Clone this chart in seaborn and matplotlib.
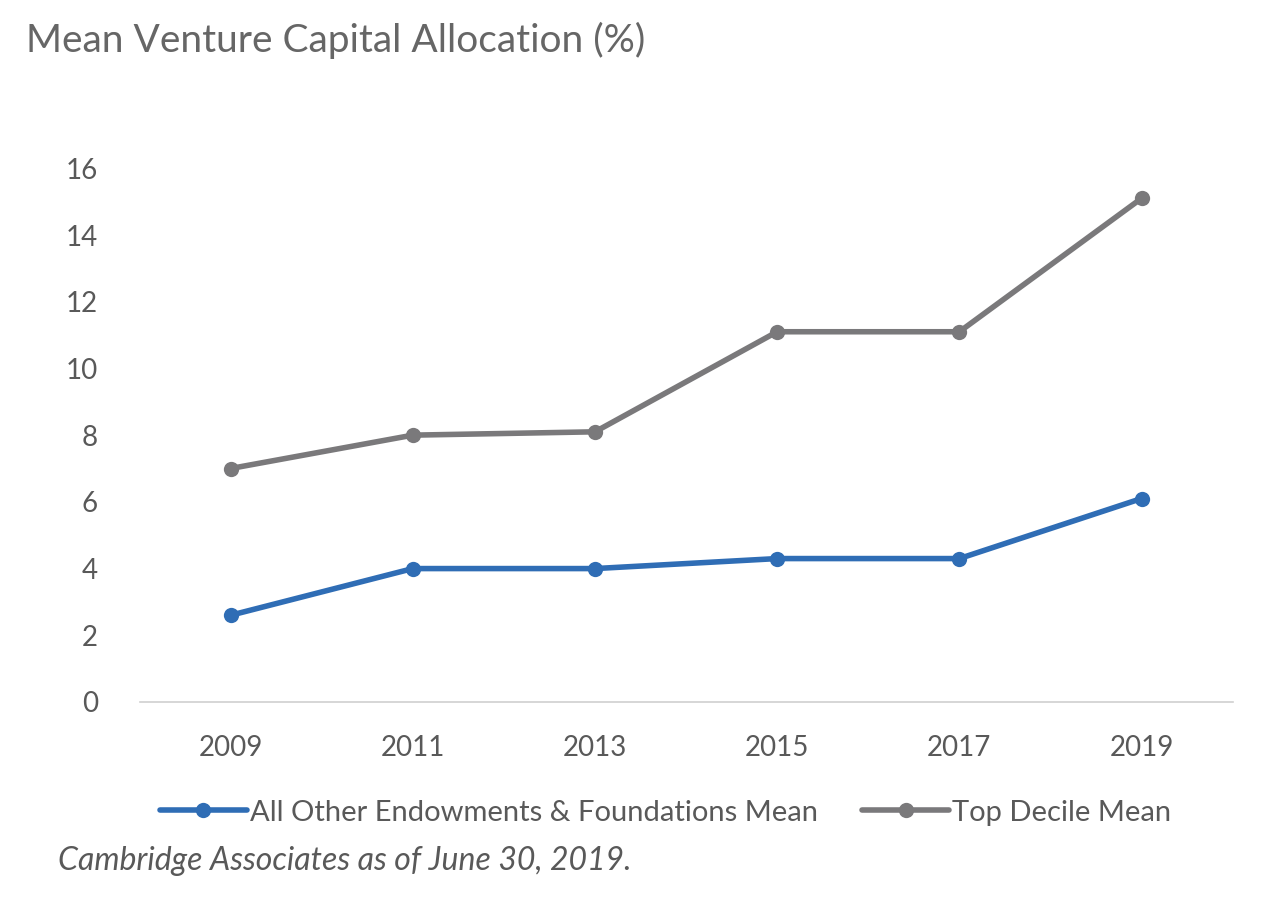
import matplotlib
matplotlib.use("Agg")
import matplotlib.pyplot as plt
import seaborn as sns
import pandas as pd

years = ["2009", "2011", "2013", "2015", "2017", "2019"]
all_other = [2.6, 4.0, 4.0, 4.3, 4.3, 6.1]
top_decile = [7.0, 8.0, 8.1, 11.1, 11.1, 15.1]
series_names = ["All Other Endowments & Foundations Mean", "Top Decile Mean"]
colors = ["#2F6DB5", "#7A797B"]

sns.set_style("white")
plt.rcParams['font.family'] = ['Lato', 'DejaVu Sans']

df = pd.DataFrame({"Year": years * 2,
                   "Value": all_other + top_decile,
                   "Series": [series_names[0]] * 6 + [series_names[1]] * 6})

fig = plt.figure(figsize=(12.8, 9), dpi=100)
ax = fig.add_axes([0.109, 0.22, 0.854, 0.593])
sns.lineplot(data=df, x="Year", y="Value", hue="Series", palette=colors,
             marker="o", markersize=11, markeredgewidth=0, linewidth=4, ax=ax,
             legend=False, sort=False)
ax.set_xlim(-0.5, 5.5)
ax.set_ylim(0, 16)
ax.set_yticks(range(0, 17, 2))
ax.set_xlabel("")
ax.set_ylabel("")
for s in ["top", "right", "left"]:
    ax.spines[s].set_visible(False)
ax.spines["bottom"].set_color("#D0D0D0")
ax.spines["bottom"].set_linewidth(1.2)
ax.tick_params(axis="both", colors="#595959", labelsize=20, length=0)
ax.tick_params(axis="x", pad=24)
ax.tick_params(axis="y", pad=30)

from matplotlib.lines import Line2D
handles = [Line2D([], [], color=c, lw=4, marker="o", markersize=11, markeredgewidth=0) for c in colors]
fig.legend(handles, series_names, loc="center", bbox_to_anchor=(0.52, 0.097), ncol=2,
           frameon=False, fontsize=21, labelcolor="#595959", handlelength=3.0,
           handletextpad=0.1, columnspacing=1.5)

fig.text(0.02, 0.955, "Mean Venture Capital Allocation (%)", fontsize=28,
         color="#666666", va="center", ha="left")
fig.text(0.045, 0.043, "Cambridge Associates as of June 30, 2019.", fontsize=23,
         color="#595959", style="italic", va="center", ha="left")

fig.savefig("out.png", dpi=100)
